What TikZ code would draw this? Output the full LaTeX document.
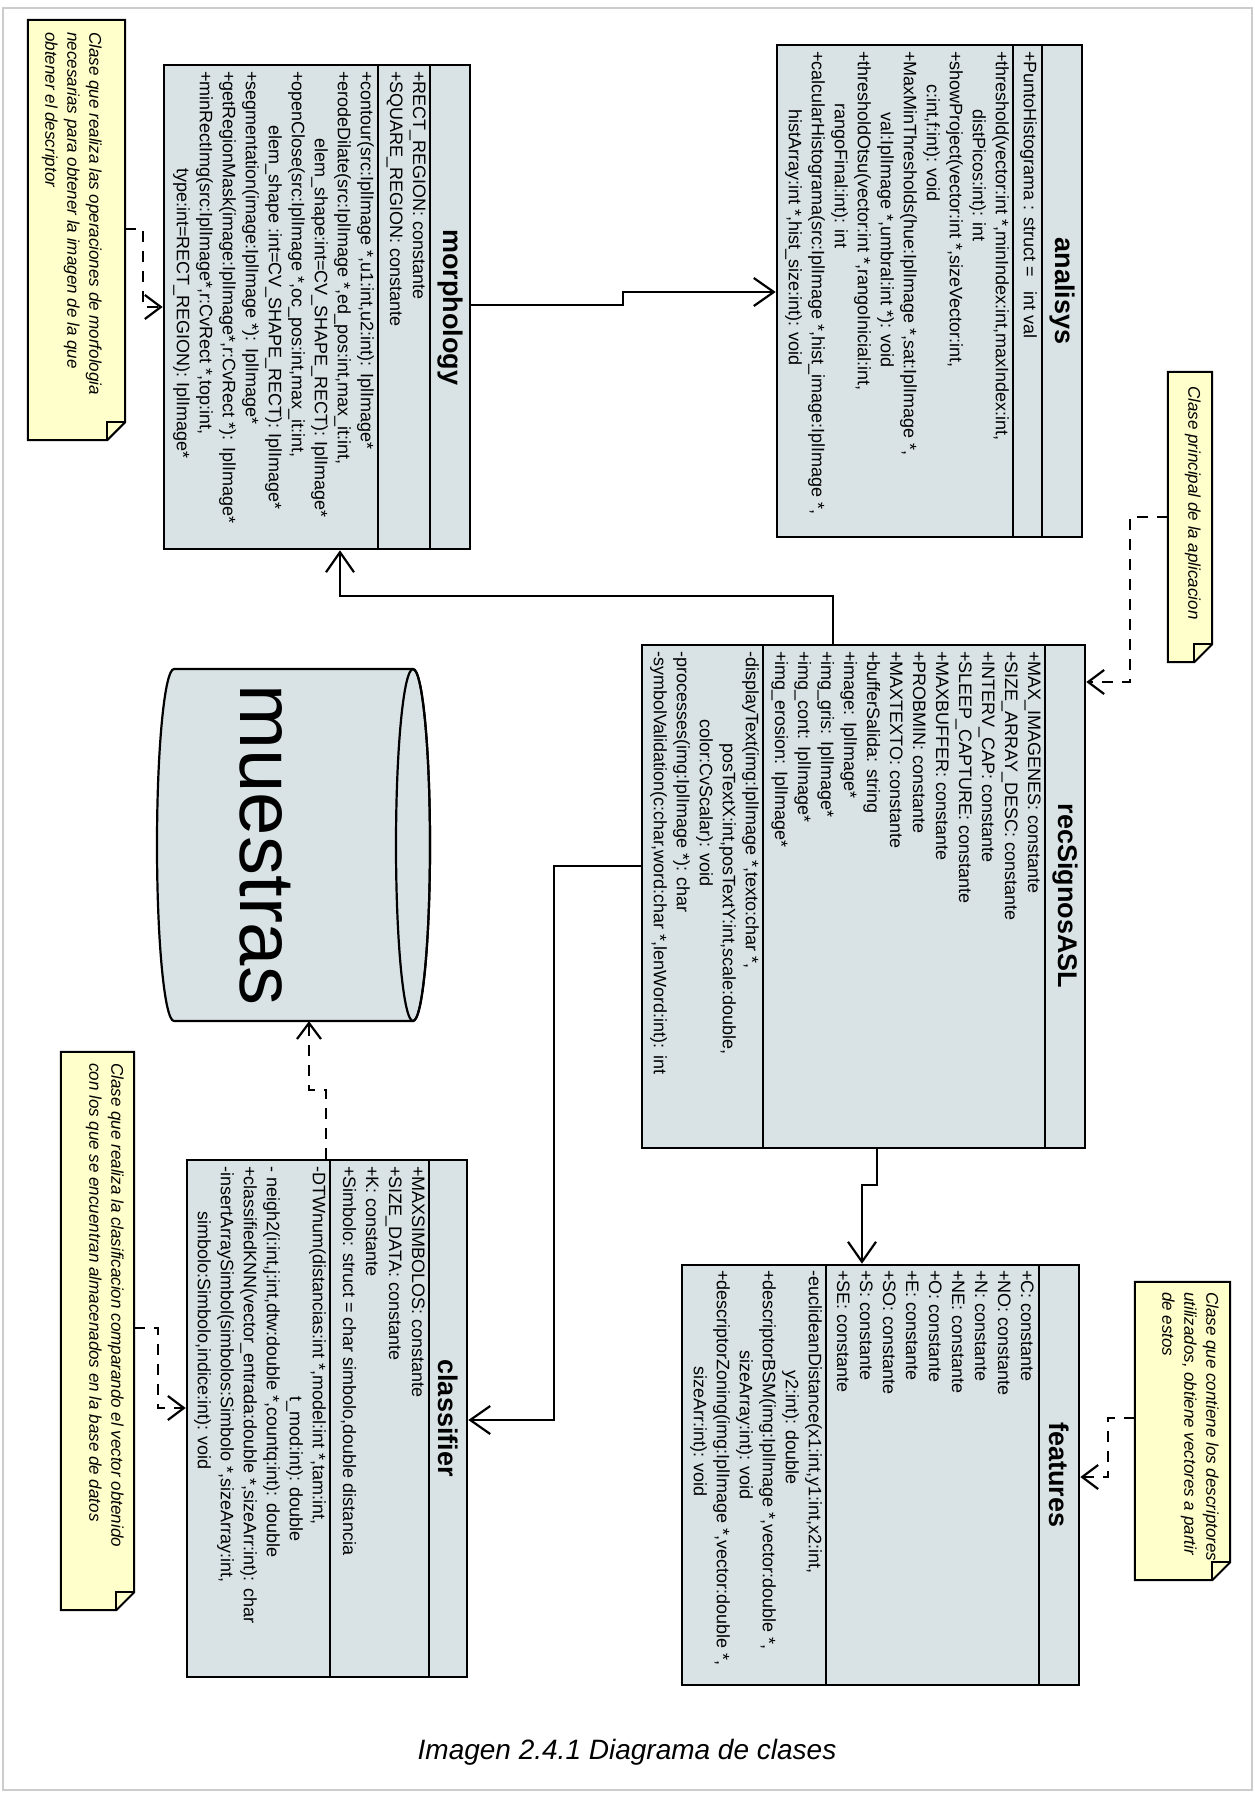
\documentclass[tikz,border=0pt]{standalone}
\usepackage{fontspec}
\setmainfont{Liberation Sans}
\usetikzlibrary{arrows.meta,fit}
\definecolor{clsfill}{RGB}{217,227,229}
\definecolor{notefill}{RGB}{255,255,204}
\definecolor{framegray}{RGB}{204,204,204}
\newcommand\mbrfont{\fontsize{18}{23}\selectfont}
\newcommand\ttlfont{\fontsize{27}{30}\selectfont\bfseries}
\newcommand\ntfont{\fontsize{17}{22}\selectfont\itshape}
\newcommand\ind[1]{\hspace*{#1pt}}
% folded note: name, x1, y1, x2, y2
\newcommand\umlnote[5]{%
  \node[fit={(#2,#3) (#4,#5)},inner sep=0pt] (#1) {};
  \filldraw[notebody] (#1.north west) -- (#1.north east) -- ([yshift=18pt]#1.south east)
    -- ([xshift=-18pt]#1.south east) -- (#1.south west) -- cycle;
  \draw[notebody,fill=none] ([yshift=18pt]#1.south east) -- ([xshift=-18pt,yshift=18pt]#1.south east)
    -- ([xshift=-18pt]#1.south east);}
\begin{document}
\begin{tikzpicture}[x=1pt,y=-1pt,
  clsbox/.style={draw=black,line width=2.6pt,fill=clsfill,inner sep=0pt},
  sep/.style={line width=2.6pt},
  mbr/.style={rotate=-90,anchor=north west,align=left,inner sep=0pt,font=\mbrfont},
  ttl/.style={rotate=-90,inner sep=0pt,font=\ttlfont},
  notebody/.style={draw=black,line width=2pt,fill=notefill},
  notetxt/.style={rotate=-90,anchor=north west,align=left,inner sep=0pt,font=\ntfont},
  assoc/.style={line width=2.2pt,-{Straight Barb[length=20pt,width=28pt,line width=2.2pt]}},
  dep/.style={line width=2.2pt,dash pattern=on 11pt off 9pt,-{Straight Barb[length=16pt,width=24pt,line width=2.2pt]}},
]
\useasboundingbox (0,0) rectangle (1255,1796);
\fill[white] (0,0) rectangle (1255,1796);
\draw[framegray,line width=1.2pt] (3,8) rectangle (1252,1790);

% ---------- morphology ----------
\node[clsbox,fit={(164,65) (470,549)}] (morph) {};
\draw[sep] (378,65) -- (378,549);
\draw[sep] (430,65) -- (430,549);
\node[ttl] (morphT) at (450,307) {morphology};
\node[mbr] (morphA) at (426,71) {+RECT\_REGION: constante\\+SQUARE\_REGION: constante};
\node[mbr] (morphO) at (374,71) {+contour(src:IplImage *,u1:int,u2:int): IplImage*\\
+erodeDilate(src:IplImage *,ed\_pos:int,max\_it:int,\\
\ind{67}elem\_shape:int=CV\_SHAPE\_RECT): IplImage*\\
+openClose(src:IplImage *,oc\_pos:int,max\_it:int,\\
\ind{54}elem\_shape :int=CV\_SHAPE\_RECT): IplImage*\\
+segmentation(image:IplImage *): IplImage*\\
+getRegionMask(image:IplImage*,r:CvRect *): IplImage*\\
+minRectImg(src:IplImage*,r:CvRect *,top:int,\\
\ind{97}type:int=RECT\_REGION): IplImage*};

% ---------- analisys ----------
\node[clsbox,fit={(777,45) (1082,537)}] (analisys) {};
\draw[sep] (1013,45) -- (1013,537);
\draw[sep] (1042,45) -- (1042,537);
\node[ttl] (analisysT) at (1062,291) {analisys};
\node[mbr] (analisysA) at (1037,51) {+PuntoHistograma : struct = \ \ int val};
\node[mbr] (analisysO) at (1009,51) {+threshold(vector:int *,minIndex:int,maxIndex:int,\\
\ind{58}distPicos:int): int\\
+showProject(vector:int *,sizeVector:int,\\
\ind{33}c:int,f:int): void\\
+MaxMinThresholds(hue:IplImage *,sat:IplImage *,\\
\ind{61}val:IplImage *,umbral:int *): void\\
+thresholdOtsu(vector:int *,rangoInicial:int,\\
\ind{52}rangoFinal:int): int\\
+calcularHistograma(src:IplImage *,hist\_image:IplImage *,\\
\ind{58}histArray:int *,hist\_size:int): void};

% ---------- recSignosASL ----------
\node[clsbox,fit={(642,645) (1085,1148)}] (recS) {};
\draw[sep] (763,645) -- (763,1148);
\draw[sep] (1045,645) -- (1045,1148);
\node[ttl] (recST) at (1065,896) {recSignosASL};
\node[mbr] (recSA) at (1041,651) {+MAX\_IMAGENES: constante\\
+SIZE\_ARRAY\_DESC: constante\\
+INTERV\_CAP: constante\\
+SLEEP\_CAPTURE: constante\\
+MAXBUFFER: constante\\
+PROBMIN: constante\\
+MAXTEXTO: constante\\
+bufferSalida: string\\
+image: IplImage*\\
+img\_gris: IplImage*\\
+img\_cont: IplImage*\\
+img\_erosion: IplImage*};
\node[mbr] (recSO) at (759,651) {-displayText(img:IplImage *,texto:char *,\\
\ind{92}posTextX:int,posTextY:int,scale:double,\\
\ind{68}color:CvScalar): void\\
-processes(img:IplImage *): char\\
-symbolValidation(c:char,word:char *,lenWord:int): int};

% ---------- features ----------
\node[clsbox,fit={(682,1265) (1079,1685)}] (features) {};
\draw[sep] (826,1265) -- (826,1685);
\draw[sep] (1039,1265) -- (1039,1685);
\node[ttl] (featuresT) at (1059,1475) {features};
\node[mbr] (featuresA) at (1034,1270) {+C: constante\\+NO: constante\\+N: constante\\+NE: constante\\
+O: constante\\+E: constante\\+SO: constante\\+S: constante\\+SE: constante};
\node[mbr] (featuresO) at (822,1270) {-euclideanDistance(x1:int,y1:int,x2:int,\\
\ind{100}y2:int): double\\
+descriptorBSM(img:IplImage *,vector:double *,\\
\ind{80}sizeArray:int): void\\
+descriptorZoning(img:IplImage *,vector:double *,\\
\ind{96}sizeArr:int): void};

% ---------- classifier ----------
\node[clsbox,fit={(187,1160) (467,1677)}] (classifier) {};
\draw[sep] (330,1160) -- (330,1677);
\draw[sep] (429,1160) -- (429,1677);
\node[ttl] (classifierT) at (448,1418) {classifier};
\node[mbr] (classifierA) at (425,1166) {+MAXSIMBOLOS: constante\\
+SIZE\_DATA: constante\\
+K: constante\\
+Simbolo: struct = char simbolo,double distancia};
\node[mbr] (classifierO) at (326,1166) {-DTWnum(distancias:int *,model:int *,tam:int,\\
\ind{230}t\_mod:int): double\\
- neigh2(i:int,j:int,dtw:double *,countq:int): double\\
+classifiedKNN(vector\_entrada:double *,sizeArr:int): char\\
-insertArraySimbol(simbolos:Simbolo *,sizeArray:int,\\
\ind{45}simbolo:Simbolo,indice:int): void};

% ---------- muestras (data store) ----------
\node[fit={(157,669) (430,1021)},inner sep=0pt] (muestras) {};
\filldraw[draw=black,line width=2.2pt,fill=clsfill] (174,669) -- (413,669)
  arc[start angle=90,end angle=-90,x radius=17pt,y radius=176pt] -- (174,1021)
  arc[start angle=270,end angle=90,x radius=17pt,y radius=176pt] -- cycle;
\draw[line width=2.2pt] (413,845) ellipse[x radius=17pt,y radius=176pt];
\node[rotate=-90,anchor=base,inner sep=0pt,font=\fontsize{78}{80}\selectfont] (muestrasT) at (240,845) {muestras};

% ---------- notes ----------
\umlnote{noteM}{28}{20}{125}{440}
\node[notetxt] (noteMT) at (102,32) {Clase que realiza las operaciones de morfologia\\
necesarias para obtener la imagen de la que\\obtener el descriptor};
\umlnote{noteR}{1168}{372}{1212}{662}
\node[notetxt] (noteRT) at (1201,386) {Clase principal de la aplicacion};
\umlnote{noteF}{1135}{1282}{1230}{1580}
\node[notetxt] (noteFT) at (1219,1292) {Clase que contiene los descriptores\\
utilizados, obtiene vectores a partir\\de estos};
\umlnote{noteC}{61}{1052}{134}{1610}
\node[notetxt] (noteCT) at (124,1063) {Clase que realiza la clasificacion comparando el vector obtenido\\
con los que se encuentran almacenados en la base de datos};

% ---------- bend points ----------
\coordinate (j1) at (340,596);   \coordinate (j2) at (833,596);
\coordinate (k1) at (623,305);   \coordinate (k2) at (623,292);
\coordinate (f1) at (877,1185);  \coordinate (f2) at (862,1185);
\coordinate (c1) at (554,866);   \coordinate (c2) at (554,1420);
\coordinate (m1) at (326,1090);  \coordinate (m2) at (309,1090);
\coordinate (n1) at (143,229);   \coordinate (n2) at (143,307);
\coordinate (q1) at (1108,1418); \coordinate (q2) at (1108,1477);
\coordinate (r1) at (158,1328);  \coordinate (r2) at (158,1408);
\coordinate (s1) at (1130,517);  \coordinate (s2) at (1130,682);

% ---------- associations ----------
\draw[assoc] (recS.north -| j2) -- (j2) -- (j1) -- (morph.south -| j1);
\draw[assoc] (morph.east |- k1) -- (k1) -- (k2) -- (analisys.west |- k2);
\draw[assoc] (recS.south -| f1) -- (f1) -- (f2) -- (features.north -| f2);
\draw[assoc] (recS.west |- c1) -- (c1) -- (c2) -- (classifier.east |- c2);

% ---------- dependencies ----------
\draw[dep] (classifier.north -| m1) -- (m1) -- (m2) -- (muestras.south -| m2);
\draw[dep] (noteM.east |- n1) -- (n1) -- (n2) -- (morph.west |- n2);
\draw[dep] (noteF.west |- q1) -- (q1) -- (q2) -- (features.east |- q2);
\draw[dep] (noteC.east |- r1) -- (r1) -- (r2) -- (classifier.west |- r2);
\draw[dep] (noteR.west |- s1) -- (s1) -- (s2) -- (recS.east |- s2);

% ---------- caption ----------
\node[font=\fontsize{28}{32}\selectfont\itshape] (caption) at (627,1752) {Imagen 2.4.1 Diagrama de clases};
\end{tikzpicture}
\end{document}
